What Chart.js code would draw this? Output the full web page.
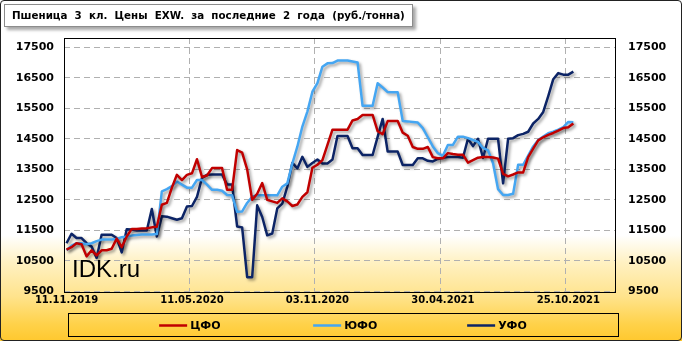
<!DOCTYPE html>
<html>
<head>
<meta charset="utf-8">
<script src="https://cdn.jsdelivr.net/npm/chart.js@4/dist/chart.umd.min.js"></script>
<style>
  html, body { margin: 0; padding: 0; background: #fff; }
  #wrap {
    position: relative; width: 682px; height: 341px; overflow: hidden;
    background: linear-gradient(to bottom, #ffffff 0%, #ffffff 69%, #fff1c2 77%, #ffe38c 87%, #ffd24a 95%, #ffc82e 100%);
  }
  #chart { position: absolute; left: 0; top: 0; }
  #title {
    position: absolute; left: 4px; top: 4px; width: 409px; height: 23px;
    box-sizing: border-box; background: #fff; border: 1px solid #8c8c8c;
    box-shadow: 3px 3px 3px rgba(0,0,0,0.35);
    font: bold 10.3px "DejaVu Sans"; line-height: 21px; padding-left: 7px;
    white-space: pre; color: #000;
  }
  #frame {
    position: absolute; left: 0; top: 0; width: 682px; height: 341px;
    box-sizing: border-box; border: 1px solid #222; border-radius: 4px; pointer-events: none;
  }
</style>
</head>
<body>
<div id="wrap">
  <canvas id="chart" width="682" height="341"></canvas>
  <div id="title">Пшеница  3  кл.  Цены  EXW.  за  последние  2  года  (руб./тонна)</div>
  <div id="frame"></div>
</div>
<script>
// tick labels on the x axis, one every 25 weeks
const tickLabels = ["11.11.2019", "11.05.2020", "03.11.2020", "30.04.2021", "25.10.2021"];
const tickStep = 25;
const categoryCount = 110;
const yTicks = [9500, 10500, 11500, 12500, 13500, 14500, 15500, 16500, 17500];

const seriesNames = ["ЦФО", "ЮФО", "УФО"];

const cfo = [
  10870, 10950, 11080, 11050, 10650, 10850, 10680, 10850, 10850, 10900,
  11230, 10950, 11300, 11550, 11550, 11560, 11570, 11600, 11620, 12340,
  12400, 12900, 13320, 13150, 13320, 13370, 13830, 13250, 13300, 13540,
  13540, 13540, 12830, 12830, 14130, 14050, 13500, 12500, 12700, 13050,
  12500, 12450, 12400, 12550, 12450, 12300, 12350, 12600, 12750, 13550,
  13650, 13800, 14300, 14800, 14800, 14800, 14800, 15100, 15150, 15280,
  15280, 15280, 14750, 14650, 15080, 15080, 15080, 14700, 14600, 14230,
  14170, 14170, 14230, 13900, 13860, 13860, 14030, 14000, 13980, 13980,
  13720, 13800, 13880, 13900, 13900, 13890, 13850, 13350, 13270, 13330,
  13400, 13400, 13900, 14180, 14450, 14550, 14630, 14690, 14770, 14850,
  14880, 15000
];

const ufo_south = [
  10850, 11000, 11080, 11080, 11050, 11080, 11150, 11200, 11200, 11200,
  11220, 11280, 11300, 11330, 11350, 11370, 11370, 11370, 11380, 12780,
  12850, 12950, 13100, 13000, 12900, 12900, 13150, 13150, 13000, 12830,
  12830, 12800, 12660, 12650, 12110, 12120, 12400, 12600, 12650, 12650,
  12650, 12650, 12650, 12930, 13040, 13690, 14240, 14900, 15390, 16040,
  16320, 16860, 16970, 16980, 17060, 17060, 17060, 17030, 17000, 15580,
  15580, 15580, 16320, 16180, 16030, 16020, 16020, 15080, 15070, 15050,
  15030, 14850, 14550, 14250, 14030, 13940, 14300, 14300, 14570, 14570,
  14520, 14460, 14400, 14200, 14120, 13700, 12850, 12660, 12660, 12700,
  13650, 13650, 13950, 14250, 14460, 14570, 14680, 14730, 14800, 14880,
  15050, 15040
];

const ufo_ural = [
  11080, 11390, 11250, 11250, 11080, 10970, 10600, 11360, 11360, 11360,
  11250, 10780, 11540, 11530, 11500, 11500, 11500, 12200, 11300, 11960,
  11950, 11900, 11850, 11900, 12280, 12300, 12600, 13220, 13320, 13330,
  13330, 13330, 13000, 13000, 11630, 11600, 9970, 9970, 12320, 11940,
  11340, 11400, 12220, 12380, 12930, 13710, 13530, 13910, 13580, 13710,
  13820, 13690, 13690, 13820, 14590, 14590, 14590, 14190, 14190, 13970,
  13970, 13970, 14560, 15150, 14080, 14080, 14080, 13640, 13640, 13640,
  13860, 13860, 13780, 13760, 13840, 13880, 13900, 13900, 13900, 13880,
  14500, 14260, 14500, 13870, 14500, 14500, 14500, 13040, 14500, 14520,
  14620, 14660, 14730, 15000, 15150, 15380, 15900, 16450, 16650, 16600,
  16600, 16700
];

const categories = [];
for (let i = 0; i < categoryCount; i++) {
  categories.push(i % tickStep === 0 ? tickLabels[i / tickStep] : "");
}

const gridColor = "#b0b0b0";
const gridDash = [6, 4];

// frame, watermark and legend box drawn around the library's own elements
const decor = {
  id: "decor",
  beforeDatasetsDraw(chart) {
    const { ctx, chartArea: a } = chart;
    ctx.save();
    ctx.font = '24px "Liberation Sans"';
    ctx.fillStyle = "#000";
    ctx.textBaseline = "alphabetic";
    ctx.fillText("IDK.ru", a.left + 8, 277);
    ctx.strokeStyle = "#000";
    ctx.lineWidth = 1;
    ctx.strokeRect(Math.round(a.left) + 0.5, Math.round(a.top) + 0.5,
      Math.round(a.right - a.left) - 1, Math.round(a.bottom - a.top));
    ctx.restore();
  },
  beforeDatasetDraw(chart) {
    const ctx = chart.ctx;
    ctx.save();
    ctx.shadowColor = "rgba(0,0,0,0.38)";
    ctx.shadowBlur = 3;
    ctx.shadowOffsetX = 2;
    ctx.shadowOffsetY = 2;
  },
  afterDatasetDraw(chart) {
    chart.ctx.restore();
  },
  afterDraw(chart) {
    const ctx = chart.ctx;
    ctx.save();
    ctx.strokeStyle = "#000";
    ctx.lineWidth = 1;
    ctx.strokeRect(68.5, 313.5, 550, 23);
    ctx.font = 'bold 11px "DejaVu Sans"';
    ctx.textBaseline = "middle";
    const lineW = 28, gap = 3, step = 154;
    const ds = chart.data.datasets;
    const lastW = lineW + gap + ctx.measureText(ds[ds.length - 1].label).width;
    let x = 343 - (step * (ds.length - 1) + lastW) / 2;
    ds.forEach(d => {
      ctx.strokeStyle = d.borderColor;
      ctx.lineWidth = 2.5;
      ctx.beginPath();
      ctx.moveTo(x, 325.5);
      ctx.lineTo(x + lineW, 325.5);
      ctx.stroke();
      ctx.fillStyle = "#000";
      ctx.fillText(d.label, x + lineW + gap, 326);
      x += step;
    });
    ctx.restore();
  }
};

new Chart(document.getElementById("chart"), {
  type: "line",
  data: {
    labels: categories,
    datasets: [
      { label: seriesNames[0], data: cfo, borderColor: "#c00000" },
      { label: seriesNames[1], data: ufo_south, borderColor: "#45a6f2" },
      { label: seriesNames[2], data: ufo_ural, borderColor: "#0c2466" }
    ].map(d => Object.assign(d, {
      borderWidth: 2.5, pointRadius: 0, tension: 0, fill: false, borderJoinStyle: "round"
    }))
  },
  options: {
    responsive: false,
    animation: false,
    layout: { padding: { top: 38, bottom: 29.5, left: 0, right: 0 } },
    plugins: { legend: { display: false }, tooltip: { enabled: false } },
    scales: {
      x: {
        type: "category",
        offset: true,
        grid: {
          offset: true,
          drawTicks: false,
          color: c => (c.index % tickStep === 0 && c.index > 0 && c.index < categoryCount) ? gridColor : "transparent"
        },
        border: { display: false, dash: gridDash },
        ticks: {
          autoSkip: false, maxRotation: 0, minRotation: 0, padding: 3,
          color: "#000", font: { family: "DejaVu Sans", size: 10, weight: "bold" },
          callback: (v, i) => categories[i]
        },
        afterFit: s => { s.height = 20; }
      },
      y: {
        position: "left",
        min: 9500, max: 17800,
        afterBuildTicks: s => { s.ticks = yTicks.map(v => ({ value: v })); },
        grid: { color: gridColor, drawTicks: false },
        border: { display: false, dash: gridDash },
        ticks: {
          padding: 10, color: "#000", font: { family: "DejaVu Sans", size: 11, weight: "bold" },
          callback: v => String(v)
        },
        afterFit: s => { s.width = 64; }
      },
      y2: {
        position: "right",
        display: true,
        min: 9500, max: 17800,
        afterBuildTicks: s => { s.ticks = yTicks.map(v => ({ value: v })); },
        grid: { display: false, drawTicks: false },
        border: { display: false },
        ticks: {
          padding: 12, color: "#000", font: { family: "DejaVu Sans", size: 11, weight: "bold" },
          callback: v => String(v)
        },
        afterFit: s => { s.width = 66; }
      }
    }
  },
  plugins: [decor]
});
</script>
</body>
</html>
